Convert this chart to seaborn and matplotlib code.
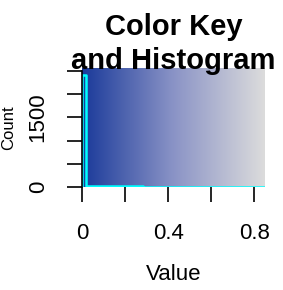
import numpy as np
import pandas as pd
import matplotlib
matplotlib.use("Agg")
import matplotlib.pyplot as plt
import seaborn as sns
from matplotlib.colors import LinearSegmentedColormap

# histogram counts of the color key (first bin holds almost everything)
counts = [2420, 22, 18, 16, 15, 14, 14, 13, 13, 12, 12, 12, 11, 11, 11,
          10, 10, 10, 10, 10, 9, 9, 9, 9, 9, 9, 8, 8, 8, 8,
          8, 8, 8, 7, 7, 7, 7, 7, 7, 7, 7, 6, 6, 6, 6]
val_min, val_max = 0.0, 0.85
key_colors = ["#1a3a9a", "#8a93c6", "#dcdcdc"]
x_ticks = [0, 0.2, 0.4, 0.6, 0.8]
x_labels = ["0", "", "0.4", "", "0.8"]
y_ticks = [0, 500, 1000, 1500, 2000, 2500]
y_labels = ["0", "", "", "1500", "", ""]

sns.set_style("white")
plt.rcParams['font.family'] = ['Liberation Sans', 'DejaVu Sans']
plt.rcParams['text.color'] = 'black'
plt.rcParams['axes.labelcolor'] = 'black'
plt.rcParams['xtick.color'] = 'black'
plt.rcParams['ytick.color'] = 'black'

edges = np.linspace(val_min, val_max, len(counts) + 1)
hist = pd.DataFrame({
    "x": [edges[0]] + list(edges),
    "y": [0] + counts + [counts[-1]],
})

fig = plt.figure(figsize=(2.83, 2.9), dpi=100)
ax = fig.add_axes([82 / 283, 1 - 187 / 290, 183 / 283, 119 / 290])

cmap = LinearSegmentedColormap.from_list("key", key_colors)
ymax = 2560
ax.imshow(np.linspace(0, 1, 256).reshape(1, -1), cmap=cmap, aspect="auto",
          extent=[val_min, val_max, 0, ymax], interpolation="bilinear")

sns.lineplot(data=hist, x="x", y="y", ax=ax, color="cyan", lw=1.8,
             drawstyle="steps-post", sort=False, estimator=None)

ax.set_xlim(val_min, val_max)
ax.set_ylim(0, ymax)

for s in ["top", "bottom", "right"]:
    ax.spines[s].set_visible(False)
ax.spines["left"].set_color("black")
ax.spines["left"].set_linewidth(1.2)
ax.spines["left"].set_bounds(0, 2500)

ax.set_xticks(x_ticks)
ax.set_xticklabels(x_labels, fontsize=16)
ax.set_yticks(y_ticks)
ax.set_yticklabels(y_labels, fontsize=16, rotation=90, va="center")
ax.tick_params(axis="both", direction="out", length=11, width=1.2,
               color="black", left=True, bottom=True)
ax.tick_params(axis="x", pad=15)
ax.tick_params(axis="y", pad=13)

ax.set_xlabel("Value", fontsize=16, labelpad=14)
ax.set_ylabel("Count", fontsize=12, labelpad=8)
ax.set_title("Color Key\nand Histogram", fontsize=21, fontweight="bold",
             linespacing=1.3, pad=-1)

fig.savefig("out.png", dpi=100)
